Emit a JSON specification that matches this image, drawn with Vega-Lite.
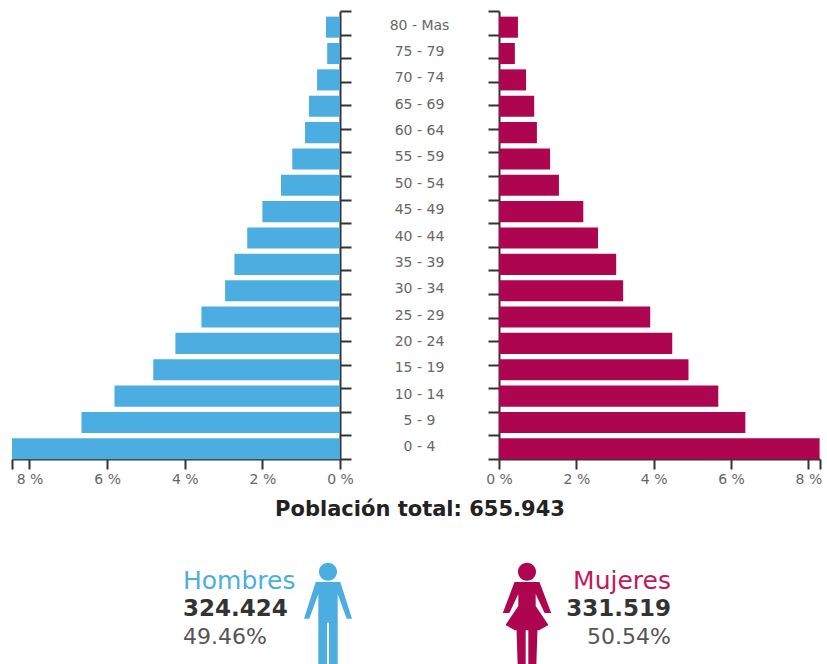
{"$schema":"https://vega.github.io/schema/vega-lite/v6.json","padding":{"left":11,"top":8,"right":0,"bottom":0},"spacing":0,
"config":{"view":{"stroke":null},"font":"DejaVu Sans","axis":{"grid":false,"title":null,"labelFont":"DejaVu Sans","labelFontSize":14,"labelColor":"#666666","domainColor":"#333333","tickColor":"#333333","domainWidth":2,"tickWidth":2}},
"datasets":{"pop":[
{"g":"80 - Mas","Hombres":0.36,"Mujeres":0.49},{"g":"75 - 79","Hombres":0.33,"Mujeres":0.41},{"g":"70 - 74","Hombres":0.59,"Mujeres":0.70},{"g":"65 - 69","Hombres":0.80,"Mujeres":0.91},{"g":"60 - 64","Hombres":0.90,"Mujeres":0.98},{"g":"55 - 59","Hombres":1.23,"Mujeres":1.32},{"g":"50 - 54","Hombres":1.52,"Mujeres":1.55},{"g":"45 - 49","Hombres":2.0,"Mujeres":2.18},{"g":"40 - 44","Hombres":2.39,"Mujeres":2.56},{"g":"35 - 39","Hombres":2.72,"Mujeres":3.03},{"g":"30 - 34","Hombres":2.96,"Mujeres":3.21},{"g":"25 - 29","Hombres":3.57,"Mujeres":3.91},{"g":"20 - 24","Hombres":4.24,"Mujeres":4.48},{"g":"15 - 19","Hombres":4.81,"Mujeres":4.90},{"g":"10 - 14","Hombres":5.81,"Mujeres":5.67},{"g":"5 - 9","Hombres":6.66,"Mujeres":6.37},{"g":"0 - 4","Hombres":8.45,"Mujeres":8.29}],
"marks":[{"t":0},{"t":1},{"t":2},{"t":3},{"t":4},{"t":5},{"t":6},{"t":7},{"t":8},{"t":9},{"t":10},{"t":11},{"t":12},{"t":13},{"t":14},{"t":15},{"t":16},{"t":17},{"t":18},{"t":19}],
"footer":[{"sex":"Total","line":"title","text":"Población total: 655.943"},{"sex":"Hombres","line":"title","text":"Hombres"},{"sex":"Hombres","line":"count","text":"324.424"},{"sex":"Hombres","line":"pct","text":"49.46%"},{"sex":"Mujeres","line":"title","text":"Mujeres"},{"sex":"Mujeres","line":"count","text":"331.519"},{"sex":"Mujeres","line":"pct","text":"50.54%"}]},
"vconcat":[
{"hconcat":[
{"width":328,"height":448,"resolve":{"scale":{"y":"independent"},"axis":{"y":"independent"}},"layer":[
{"data":{"name":"pop"},"mark":{"type":"bar","color":"#4CAEE0"},"encoding":{"y":{"field":"g","type":"nominal","sort":null,"scale":{"type":"band","range":[3,451],"paddingInner":0.2,"paddingOuter":0.1},"axis":{"orient":"right","ticks":false,"domain":false,"labelPadding":79,"labelAlign":"center","labelOffset":-1.5,"labelColor":"#666666"}},"x":{"field":"Hombres","type":"quantitative","scale":{"domain":[0,8.45],"reverse":true,"nice":false},"axis":{"values":[0,2,4,6,8,8.45],"tickSize":10,"labelPadding":3,"labelExpr":"datum.value<=8 ? datum.value+' %' : ''","labelAlign":"center"}}}},
{"data":{"name":"marks"},"mark":{"type":"point","opacity":0},"encoding":{"y":{"field":"t","type":"quantitative","scale":{"domain":[0,19],"nice":false},"axis":{"orient":"right","values":[0,1,2,3,4,5,6,7,8,9,10,11,12,13,14,15,16,17,18,19],"labels":false,"tickSize":11}}}}
]},
{"width":321,"height":448,"resolve":{"scale":{"y":"independent"},"axis":{"y":"independent"}},"layer":[
{"data":{"name":"pop"},"mark":{"type":"bar","color":"#AE0550"},"encoding":{"y":{"field":"g","type":"nominal","sort":null,"scale":{"type":"band","range":[3,451],"paddingInner":0.2,"paddingOuter":0.1},"axis":null},"x":{"field":"Mujeres","type":"quantitative","scale":{"domain":[0,8.3],"nice":false},"axis":{"values":[0,2,4,6,8,8.3],"tickSize":10,"labelPadding":3,"labelExpr":"datum.value<=8 ? datum.value+' %' : ''","labelAlign":"center"}}}},
{"data":{"name":"marks"},"mark":{"type":"point","opacity":0},"encoding":{"y":{"field":"t","type":"quantitative","scale":{"domain":[0,19],"nice":false},"axis":{"orient":"left","values":[0,1,2,3,4,5,6,7,8,9,10,11,12,13,14,15,16,17,18,19],"labels":false,"tickSize":11}}}}
]}
],"spacing":159,"bounds":"flush"},
{"width":815,"height":176,"data":{"name":"footer"},
"encoding":{"x":{"field":"sex","type":"nominal","sort":null,"scale":{"type":"point","domain":["Hombres","Total","Mujeres"],"range":[316,515],"padding":0},"axis":null},"y":{"field":"line","type":"nominal","sort":null,"scale":{"type":"point","domain":["title","count","pct"],"range":[95,151],"padding":0},"axis":null},"text":{"field":"text","type":"nominal"}},
"layer":[
{"transform":[{"filter":"datum.sex=='Total'"}],"mark":{"type":"text","fontWeight":"bold","fontSize":21,"fill":"#222222","dx":-7.5,"dy":-71,"align":"center","baseline":"middle"}},
{"transform":[{"filter":"datum.sex=='Hombres'&&datum.line=='title'"}],"mark":{"type":"text","fontSize":25,"fill":"#4CAEE0","align":"left","dx":-145,"baseline":"middle"}},
{"transform":[{"filter":"datum.sex=='Hombres'&&datum.line=='count'"}],"mark":{"type":"text","fontSize":23,"fontWeight":"bold","fill":"#333333","align":"left","dx":-145,"baseline":"middle"}},
{"transform":[{"filter":"datum.sex=='Hombres'&&datum.line=='pct'"}],"mark":{"type":"text","fontSize":22,"fill":"#555555","align":"left","dx":-145,"baseline":"middle"}},
{"transform":[{"filter":"datum.sex=='Mujeres'&&datum.line=='title'"}],"mark":{"type":"text","fontSize":25,"fill":"#C2185B","align":"right","dx":144,"baseline":"middle"}},
{"transform":[{"filter":"datum.sex=='Mujeres'&&datum.line=='count'"}],"mark":{"type":"text","fontSize":23,"fontWeight":"bold","fill":"#333333","align":"right","dx":144,"baseline":"middle"}},
{"transform":[{"filter":"datum.sex=='Mujeres'&&datum.line=='pct'"}],"mark":{"type":"text","fontSize":22,"fill":"#555555","align":"right","dx":144,"baseline":"middle"}},
{"transform":[{"filter":"datum.sex=='Hombres'&&datum.line=='count'"}],"mark":{"type":"point","filled":true,"fill":"#4CAEE0","opacity":1,"size":12100,"strokeWidth":0,"yOffset":9,"shape":"M-.164,-.842 a.164,.164 0 1,0 .328,0 a.164,.164 0 1,0 -.328,0 Z M-.224,-.655 L.224,-.655 L.436,.013 L.34,.013 L.176,-.436 L.176,.855 L.018,.855 L.018,.085 L-.018,.085 L-.018,.855 L-.176,.855 L-.176,-.436 L-.34,.013 L-.436,.013 Z"}},
{"transform":[{"filter":"datum.sex=='Mujeres'&&datum.line=='count'"}],"mark":{"type":"point","filled":true,"fill":"#AE0550","opacity":1,"size":12100,"strokeWidth":0,"yOffset":9,"shape":"M-.164,-.842 a.164,.164 0 1,0 .328,0 a.164,.164 0 1,0 -.328,0 Z M-.227,-.655 L.227,-.655 L.44,-.09 L.32,-.09 L.158,-.436 L.158,-.218 L.39,.127 L.22,.224 L.19,.224 L.17,.855 L.024,.855 L.024,.224 L-.024,.224 L-.024,.855 L-.17,.855 L-.19,.224 L-.22,.224 L-.39,.127 L-.158,-.218 L-.158,-.436 L-.32,-.09 L-.44,-.09 Z"}}
]}
]}
